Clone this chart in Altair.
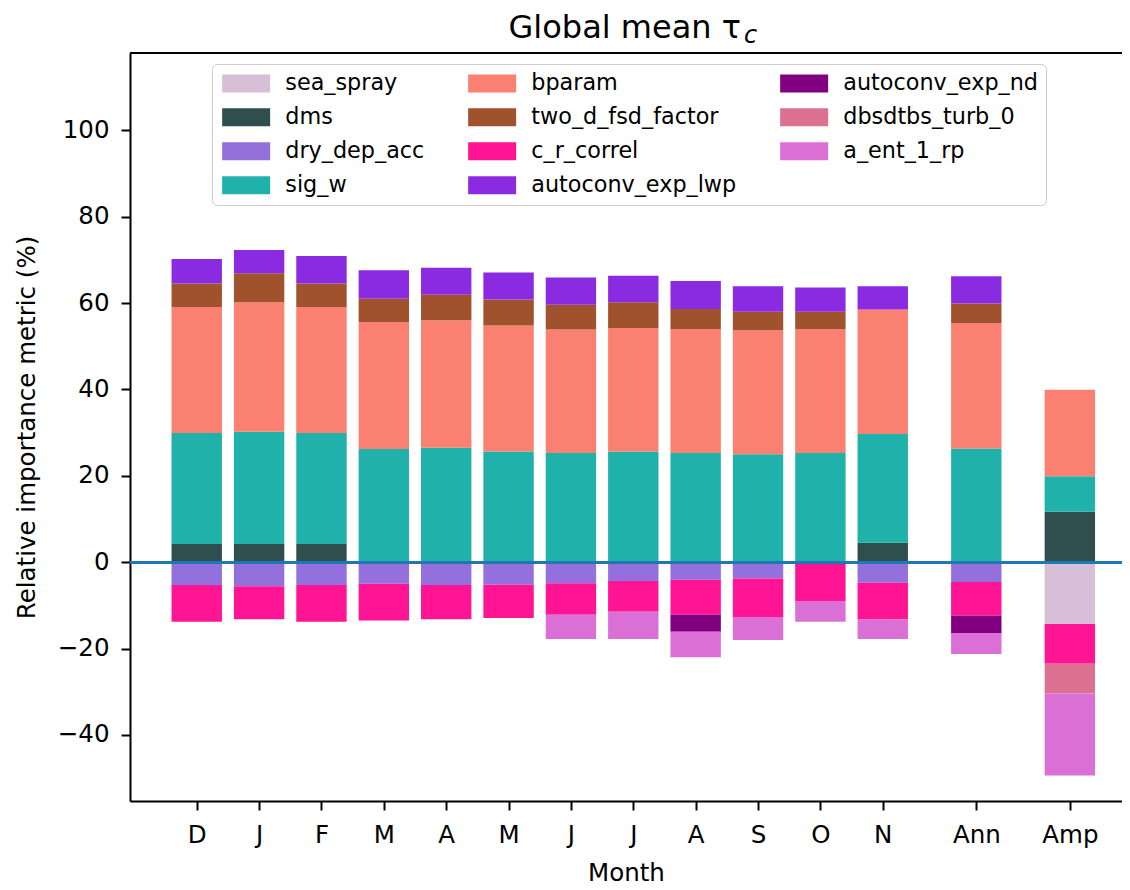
import json
import altair as alt
import pandas as pd

# ---- data ----
months = ["D", "J", "F", "M", "A", "M", "J", "J", "A", "S", "O", "N", "Ann", "Amp"]
positions = [0, 1, 2, 3, 4, 5, 6, 7, 8, 9, 10, 11, 12.5, 14]

params = ["sea_spray", "dms", "dry_dep_acc", "sig_w", "bparam", "two_d_fsd_factor",
          "c_r_correl", "autoconv_exp_lwp", "autoconv_exp_nd", "dbsdtbs_turb_0", "a_ent_1_rp"]
colors = ["#D8BFD8", "#2F4F4F", "#9370DB", "#20B2AA", "#FA8072", "#A0522D",
          "#FF1493", "#8A2BE2", "#800080", "#DB7093", "#DA70D6"]

sea_spray = [0, 0, 0, 0, 0, 0, 0, 0, 0, 0, 0, 0, 0, -14.3]
dms = [4.2, 4.2, 4.2, 0, 0, 0, 0, 0, 0, 0, 0, 4.5, 0, 11.7]
dry_dep_acc = [-5.3, -5.6, -5.3, -5.0, -5.3, -5.2, -4.9, -4.35, -4.05, -3.8, 0, -4.75, -4.6, 0]
sig_w = [25.7, 26.0, 25.7, 26.2, 26.5, 25.6, 25.3, 25.6, 25.3, 25.0, 25.3, 25.2, 26.3, 8.2]
bparam = [29.2, 30.0, 29.2, 29.4, 29.5, 29.2, 28.6, 28.6, 28.7, 28.7, 28.7, 28.8, 29.1, 20.0]
two_d_fsd_factor = [5.4, 6.7, 5.4, 5.4, 5.9, 6.0, 5.7, 6.0, 4.6, 4.3, 4.0, 0, 4.5, 0]
c_r_correl = [-8.5, -7.6, -8.5, -8.5, -7.9, -7.7, -7.3, -7.15, -8.1, -8.9, -9.0, -8.55, -7.8, -9.2]
autoconv_exp_lwp = [5.7, 5.4, 6.4, 6.6, 6.3, 6.3, 6.3, 6.1, 6.5, 5.9, 5.6, 5.4, 6.3, 0]
autoconv_exp_nd = [0, 0, 0, 0, 0, 0, 0, 0, -3.95, 0, 0, 0, -4.0, 0]
dbsdtbs_turb_0 = [0, 0, 0, 0, 0, 0, 0, 0, 0, 0, 0, 0, 0, -6.9]
a_ent_1_rp = [0, 0, 0, 0, 0, 0, -5.6, -6.3, -5.9, -5.3, -4.8, -4.5, -4.85, -19.0]

series = [sea_spray, dms, dry_dep_acc, sig_w, bparam, two_d_fsd_factor,
          c_r_correl, autoconv_exp_lwp, autoconv_exp_nd, dbsdtbs_turb_0, a_ent_1_rp]

y_ticks = [-40, -20, 0, 20, 40, 60, 80, 100]

rows = []
for k, (name, vals) in enumerate(zip(params, series)):
    for pos, lab, v in zip(positions, months, vals):
        if v != 0:
            rows.append({"pos": pos, "month": lab, "param": name, "k": k, "v": v})
df = pd.DataFrame(rows)

label_expr = "(" + json.dumps(months) + ")[indexof(" + json.dumps(positions) + ", datum.value)]"

FONT = "DejaVu Sans"
W, H = 992, 748
px_per_unit = 63.0
x_lo = -0.99
x_hi = x_lo + W / px_per_unit

bars = alt.Chart(df).mark_bar(size=50.4).encode(
    x=alt.X("pos:Q",
            scale=alt.Scale(domain=[x_lo, x_hi], nice=False, zero=False),
            axis=alt.Axis(values=positions, labelExpr=label_expr, title="Month",
                          labelPadding=13, titlePadding=15)),
    y=alt.Y("sum(v):Q", stack="zero",
            scale=alt.Scale(domain=[-55.3, 117.9], nice=False, zero=False),
            axis=alt.Axis(values=y_ticks, format="d",
                          title="Relative importance metric (%)",
                          labelPadding=12, titlePadding=18)),
    color=alt.Color("param:N",
                    scale=alt.Scale(domain=params, range=colors),
                    legend=alt.Legend(
                        title=None, orient="none", legendX=82, legendY=11,
                        direction="vertical", columns=3, columnPadding=41,
                        rowPadding=11, labelFontSize=22.3, labelFont=FONT,
                        labelColor="black", labelLimit=500,
                        symbolType="M-1,-1H4.333V1H-1Z", symbolSize=324,
                        symbolStrokeWidth=0, symbolOpacity=1, labelOffset=43,
                        padding=8, fillColor="white", strokeColor="#cccccc",
                        cornerRadius=5)),
    order=alt.Order("k:Q", sort="ascending"),
)

zero_line = alt.Chart(df).mark_rule(color="#1f77b4", strokeWidth=2.2).encode(
    y=alt.datum(0))

top_spine = alt.Chart(df).mark_rule(color="black", strokeWidth=2).encode(
    x=alt.value(0), x2=alt.value(W), y=alt.value(0))

title_main = alt.Chart(pd.DataFrame({"t": ["Global mean τ"]})).mark_text(
    align="right", baseline="alphabetic", font=FONT, fontSize=32, color="black"
).encode(text="t:N", x=alt.value(611), y=alt.value(-15))

title_sub = alt.Chart(pd.DataFrame({"t": ["c"]})).mark_text(
    align="left", baseline="alphabetic", font=FONT, fontSize=24, fontStyle="italic",
    color="black"
).encode(text="t:N", x=alt.value(614), y=alt.value(-10.3))

chart = alt.layer(bars, zero_line, top_spine, title_main, title_sub).properties(
    width=W, height=H,
    padding={"left": 122, "top": 45, "right": 0, "bottom": 88},
    autosize=alt.AutoSizeParams(type="none"),
).configure_view(stroke="transparent").configure_axis(
    grid=False, domainColor="black", domainWidth=2, tickColor="black",
    tickWidth=2, tickSize=9, labelFont=FONT, labelFontSize=24.5,
    labelColor="black", titleFont=FONT, titleFontSize=24.5,
    titleFontWeight="normal", titleColor="black",
)

chart.save("out.html", embed_options={"renderer": "svg", "actions": False})
